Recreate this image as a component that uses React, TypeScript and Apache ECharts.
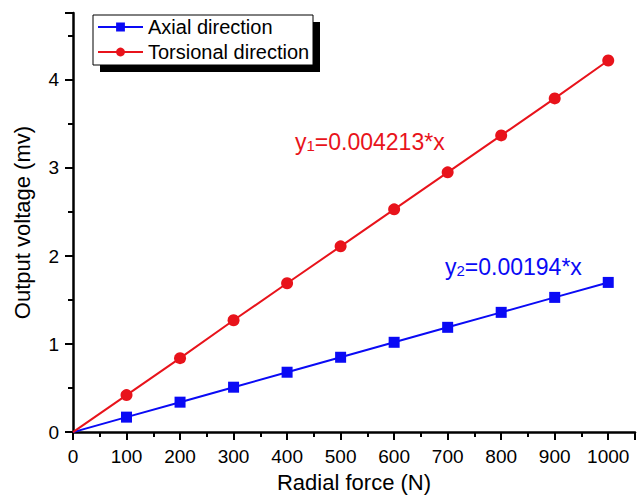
import React, { useEffect, useRef } from "react";
import * as echarts from "echarts";

const forces = [0, 100, 200, 300, 400, 500, 600, 700, 800, 900, 1000];
const axialVoltage = [0, 0.17, 0.34, 0.51, 0.68, 0.85, 1.02, 1.19, 1.36, 1.53, 1.7];
const torsionalVoltage = [0, 0.42, 0.84, 1.27, 1.69, 2.11, 2.53, 2.95, 3.37, 3.79, 4.22];
const seriesNames = ["Axial direction", "Torsional direction"];
const fitLabels = ["0.004213*x", "0.00194*x"];

const RED = "#e8131b";
const BLUE = "#0a0af5";
const FONT = "Liberation Sans, Arial, sans-serif";

function toPoints(values: number[]) {
  return forces.map((f, i) =>
    i === 0 ? { value: [f, values[i]], symbol: "none" } : { value: [f, values[i]] }
  );
}

function fitText(sub: string, expr: string, color: string) {
  return {
    text: "{a|y}{s|" + sub + "}{a|=" + expr + "}",
    fill: color,
    rich: {
      a: { fontSize: 23, fontFamily: FONT, fill: color, verticalAlign: "bottom" },
      s: { fontSize: 15, fontFamily: FONT, fill: color, padding: [12, 0, 0, 0] },
    },
  };
}

export default function App() {
  const ref = useRef<HTMLDivElement>(null);

  useEffect(() => {
    if (!ref.current) return;
    const chart = echarts.init(ref.current, undefined, { renderer: "svg" });
    const axisCommon = {
      axisLine: { show: true, onZero: false, lineStyle: { color: "#000", width: 2.5 } },
      axisTick: { show: true, inside: false, length: 8, lineStyle: { color: "#000", width: 2 } },
      minorTick: { show: true, splitNumber: 2, length: 5, lineStyle: { color: "#000", width: 2 } },
      splitLine: { show: false },
      axisLabel: { color: "#000", fontSize: 19, fontFamily: FONT, margin: 14 },
      nameTextStyle: { color: "#000", fontSize: 22, fontFamily: FONT },
    };
    chart.setOption({
      animation: false,
      backgroundColor: "#fff",
      grid: { left: 73, right: 0, top: 13, bottom: 65, containLabel: false },
      xAxis: {
        type: "value",
        min: 0,
        max: 1050,
        interval: 100,
        name: "Radial force (N)",
        nameLocation: "middle",
        nameGap: 37,
        ...axisCommon,
        axisLabel: {
          ...axisCommon.axisLabel,
          margin: 15,
          formatter: (v: number) => (v > 1000 ? "" : String(v)),
        },
      },
      yAxis: {
        type: "value",
        min: 0,
        max: 4.76,
        interval: 1,
        name: "Output voltage (mv)",
        nameLocation: "middle",
        nameGap: 40,
        ...axisCommon,
        axisLabel: {
          ...axisCommon.axisLabel,
          formatter: (v: number) => (v > 4 ? "" : String(v)),
        },
      },
      legend: {
        left: 95,
        top: 16,
        orient: "vertical",
        itemWidth: 45,
        itemHeight: 11,
        itemGap: 5,
        padding: [1, 4, 1, 2],
        z: 20,
        textStyle: { color: "#000", fontSize: 20, fontFamily: FONT, padding: [0, 0, 0, 0] },
        data: seriesNames,
      },
      graphic: [
        {
          type: "rect",
          z: 5,
          shape: { x: 100, y: 22, width: 220, height: 50 },
          style: { fill: "#000" },
        },
        {
          type: "rect",
          z: 6,
          shape: { x: 93, y: 15, width: 220, height: 50 },
          style: { fill: "#fff", stroke: "#000", lineWidth: 1 },
        },
        { type: "text", z: 10, x: 295, y: 126, style: fitText("1", fitLabels[0], RED) },
        { type: "text", z: 10, x: 445, y: 251, style: fitText("2", fitLabels[1], BLUE) },
      ],
      series: [
        {
          name: seriesNames[0],
          type: "line",
          data: toPoints(axialVoltage),
          symbol: "rect",
          symbolSize: 11,
          lineStyle: { color: BLUE, width: 2 },
          itemStyle: { color: BLUE },
          z: 3,
        },
        {
          name: seriesNames[1],
          type: "line",
          data: toPoints(torsionalVoltage),
          symbol: "circle",
          symbolSize: 12,
          lineStyle: { color: RED, width: 2 },
          itemStyle: { color: RED },
          z: 3,
        },
      ],
    });
    return () => chart.dispose();
  }, []);

  return (
    <div
      ref={ref}
      style={{ position: "absolute", left: 0, top: 0, width: 638, height: 498 }}
    />
  );
}
